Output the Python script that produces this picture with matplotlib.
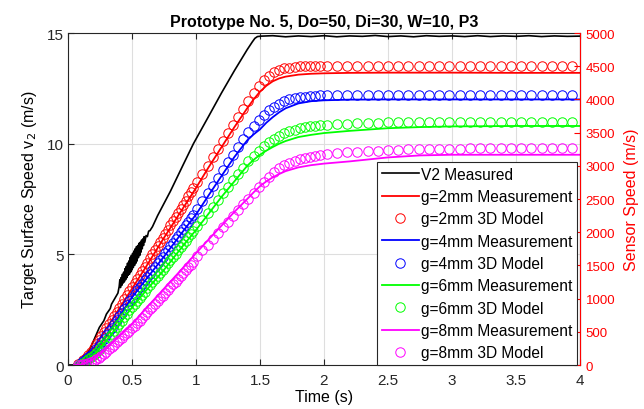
import numpy as np
import matplotlib
matplotlib.use("Agg")
import matplotlib.pyplot as plt

plt.rcParams['font.family'] = ['Liberation Sans', 'DejaVu Sans']

# ---- V2 measured target surface speed (m/s) ----
v2_time = [0.0, 0.05, 0.08, 0.10, 0.12, 0.14, 0.17, 0.20, 0.245, 0.28, 0.30, 0.33, 0.34, 0.375, 0.39,
           0.40, 0.405, 0.41, 0.415, 0.42, 0.425, 0.43, 0.435, 0.44, 0.445, 0.45, 0.455, 0.46, 0.465, 0.47,
           0.475, 0.48, 0.485, 0.49, 0.495, 0.50, 0.505, 0.51, 0.515, 0.52, 0.525, 0.53, 0.535, 0.54, 0.545,
           0.55, 0.555, 0.56, 0.565, 0.57, 0.575, 0.58, 0.585, 0.59, 0.595, 0.60, 0.61, 0.62, 0.63, 0.64,
           0.66, 0.68, 0.70, 0.80, 0.90, 0.98, 1.10, 1.20, 1.30, 1.40, 1.44, 1.46, 1.48, 1.51, 1.60,
           1.70, 1.80, 1.90, 2.00, 2.10, 2.20, 2.30, 2.40, 2.50, 2.60, 2.70, 2.80, 2.90, 3.00, 3.10,
           3.20, 3.30, 3.40, 3.50, 3.60, 3.70, 3.80, 3.90, 4.00]
v2_speed = [0.0, 0.0, 0.06, 0.15, 0.27, 0.42, 0.72, 1.10, 1.70, 2.00, 2.30, 2.55, 2.75, 3.10, 3.25,
            3.55, 3.85, 3.50, 3.95, 3.60, 4.10, 3.70, 4.20, 3.75, 4.35, 3.85, 4.45, 3.95, 4.60, 4.05,
            4.70, 4.10, 4.85, 4.20, 4.95, 4.30, 5.05, 4.40, 5.15, 4.50, 5.25, 4.60, 5.35, 4.70, 5.40,
            4.85, 5.50, 4.95, 5.55, 5.10, 5.65, 5.25, 5.70, 5.40, 5.80, 5.55, 5.85, 5.80, 6.05, 6.07,
            6.25, 6.50, 6.75, 7.85, 9.05, 10.00, 11.25, 12.30, 13.30, 14.25, 14.60, 14.76, 14.84, 14.86, 14.88,
            14.83, 14.87, 14.84, 14.88, 14.83, 14.87, 14.85, 14.89, 14.84, 14.87, 14.83, 14.88, 14.85, 14.87, 14.84,
            14.88, 14.84, 14.87, 14.85, 14.88, 14.84, 14.87, 14.85, 14.86]

# ---- sensor speed measurements, in target-speed units (m/s) ----
meas_time = [0.05, 0.10, 0.20, 0.30, 0.40, 0.50, 0.60, 0.75, 0.90, 1.00, 1.10, 1.20, 1.30, 1.40, 1.45,
             1.50, 1.55, 1.60, 1.65, 1.70, 1.80, 1.90, 2.00, 2.20, 2.50, 2.75, 3.00, 3.50, 4.00]
meas_g2 = [0.0, 0.12, 0.75, 1.65, 2.55, 3.45, 4.35, 5.75, 7.10, 8.00, 8.95, 9.85, 10.75, 11.60, 12.00,
           12.35, 12.62, 12.82, 12.95, 13.03, 13.12, 13.16, 13.18, 13.20, 13.21, 13.21, 13.21, 13.20, 13.20]
meas_g4 = [0.0, 0.08, 0.55, 1.35, 2.20, 3.05, 3.80, 4.90, 6.05, 6.80, 7.68, 8.55, 9.40, 10.15, 10.42,
           10.65, 10.95, 11.20, 11.42, 11.60, 11.82, 11.92, 11.96, 11.99, 12.00, 12.00, 12.00, 12.00, 12.00]
meas_g6 = [0.0, 0.06, 0.45, 1.10, 1.85, 2.60, 3.30, 4.30, 5.40, 6.10, 6.85, 7.60, 8.30, 9.00, 9.27,
           9.50, 9.69, 9.85, 10.00, 10.12, 10.30, 10.40, 10.48, 10.58, 10.70, 10.75, 10.78, 10.80, 10.80]
meas_g8 = [0.0, 0.02, 0.25, 0.75, 1.30, 1.85, 2.50, 3.45, 4.40, 5.05, 5.68, 6.30, 6.92, 7.50, 7.80,
           8.08, 8.30, 8.48, 8.63, 8.76, 8.93, 9.03, 9.10, 9.20, 9.38, 9.47, 9.50, 9.50, 9.50]

# ---- 3D model results ----
model_time = [0.08, 0.10, 0.12, 0.14, 0.16, 0.18, 0.20, 0.22, 0.24, 0.26, 0.28, 0.30, 0.32, 0.34, 0.36,
              0.38, 0.40, 0.42, 0.44, 0.46, 0.48, 0.50, 0.52, 0.54, 0.56, 0.58, 0.60, 0.62, 0.64, 0.66,
              0.68, 0.70, 0.72, 0.74, 0.76, 0.78, 0.80, 0.82, 0.84, 0.86, 0.88, 0.90, 0.92, 0.94, 0.96,
              0.98,
              1.01, 1.05, 1.09, 1.13, 1.17, 1.21, 1.25, 1.29, 1.33, 1.37, 1.41, 1.45, 1.49, 1.53, 1.57,
              1.61, 1.65, 1.69, 1.73, 1.77, 1.81, 1.85, 1.89, 1.93, 1.97,
              2.02, 2.10, 2.18, 2.26, 2.34, 2.42, 2.50, 2.58, 2.66, 2.74, 2.82, 2.90, 2.98, 3.06, 3.14,
              3.22, 3.30, 3.38, 3.46, 3.54, 3.62, 3.70, 3.78, 3.86, 3.94]
model_g2 = [0.03, 0.11, 0.21, 0.32, 0.45, 0.60, 0.78, 0.96, 1.14, 1.32, 1.51, 1.69, 1.87, 2.05, 2.23,
            2.41, 2.59, 2.77, 2.96, 3.15, 3.33, 3.52, 3.71, 3.89, 4.07, 4.26, 4.44, 4.63, 4.82, 5.00,
            5.19, 5.38, 5.56, 5.75, 5.94, 6.12, 6.31, 6.50, 6.68, 6.87, 7.06, 7.24, 7.43, 7.62, 7.80,
            7.99,
            8.27, 8.64, 9.01, 9.38, 9.75, 10.12, 10.49, 10.86, 11.22, 11.58, 11.93, 12.28, 12.60, 12.88, 13.08,
            13.23, 13.33, 13.40, 13.44, 13.47, 13.49, 13.50, 13.51, 13.52, 13.52,
            13.53, 13.53, 13.53, 13.53, 13.53, 13.53, 13.53, 13.53, 13.53, 13.53, 13.53, 13.53, 13.53, 13.53, 13.53,
            13.53, 13.53, 13.53, 13.53, 13.53, 13.53, 13.53, 13.53, 13.53, 13.53]
model_g4 = [0.02, 0.09, 0.16, 0.25, 0.35, 0.45, 0.57, 0.72, 0.88, 1.03, 1.19, 1.35, 1.52, 1.69, 1.86,
            2.03, 2.20, 2.37, 2.55, 2.72, 2.88, 3.05, 3.21, 3.37, 3.52, 3.67, 3.83, 3.98, 4.13, 4.29,
            4.44, 4.59, 4.75, 4.90, 5.05, 5.21, 5.36, 5.52, 5.68, 5.84, 6.00, 6.16, 6.32, 6.48, 6.64,
            6.80,
            7.06, 7.41, 7.76, 8.11, 8.46, 8.81, 9.16, 9.51, 9.86, 10.20, 10.52, 10.82, 11.08, 11.30, 11.50,
            11.66, 11.80, 11.92, 12.00, 12.06, 12.10, 12.13, 12.15, 12.17, 12.18,
            12.19, 12.20, 12.20, 12.20, 12.20, 12.20, 12.20, 12.20, 12.20, 12.20, 12.20, 12.20, 12.20, 12.20, 12.20,
            12.20, 12.20, 12.20, 12.20, 12.20, 12.20, 12.20, 12.20, 12.20, 12.20]
model_g6 = [0.01, 0.05, 0.11, 0.18, 0.26, 0.34, 0.44, 0.56, 0.69, 0.82, 0.96, 1.10, 1.25, 1.40, 1.55,
            1.70, 1.85, 2.00, 2.16, 2.31, 2.47, 2.62, 2.76, 2.90, 3.04, 3.18, 3.32, 3.46, 3.60, 3.74,
            3.88, 4.02, 4.16, 4.30, 4.45, 4.59, 4.74, 4.89, 5.03, 5.18, 5.33, 5.47, 5.62, 5.77, 5.91,
            6.06,
            6.28, 6.57, 6.87, 7.16, 7.46, 7.75, 8.05, 8.34, 8.63, 8.92, 9.20, 9.46, 9.68, 9.88, 10.06,
            10.22, 10.36, 10.47, 10.56, 10.63, 10.69, 10.74, 10.78, 10.81, 10.83,
            10.86, 10.88, 10.90, 10.92, 10.93, 10.95, 10.96, 10.97, 10.98, 10.98, 10.99, 11.00, 11.00, 11.00, 11.00,
            11.00, 11.00, 11.00, 11.00, 11.00, 11.00, 11.00, 11.00, 11.00, 11.00]
model_g8 = [0.00, 0.01, 0.03, 0.06, 0.10, 0.14, 0.19, 0.25, 0.33, 0.42, 0.51, 0.61, 0.71, 0.82, 0.92,
            1.03, 1.14, 1.24, 1.35, 1.45, 1.55, 1.65, 1.77, 1.89, 2.01, 2.13, 2.25, 2.38, 2.51, 2.63,
            2.76, 2.89, 3.01, 3.14, 3.27, 3.39, 3.52, 3.65, 3.77, 3.90, 4.03, 4.15, 4.28, 4.41, 4.53,
            4.66,
            4.92, 5.18, 5.44, 5.70, 5.96, 6.22, 6.48, 6.74, 7.00, 7.26, 7.52, 7.78, 8.03, 8.27, 8.50,
            8.70, 8.88, 9.02, 9.13, 9.22, 9.30, 9.36, 9.41, 9.46, 9.50,
            9.53, 9.57, 9.61, 9.64, 9.67, 9.69, 9.71, 9.73, 9.74, 9.75, 9.76, 9.77, 9.78, 9.78, 9.79,
            9.79, 9.79, 9.80, 9.80, 9.80, 9.80, 9.80, 9.80, 9.80, 9.80]

gaps = ['2mm', '4mm', '6mm', '8mm']
colors = ['#ff0000', '#0000ff', '#00ff00', '#ff00ff']
meas_series = [meas_g2, meas_g4, meas_g6, meas_g8]
model_series = [model_g2, model_g4, model_g6, model_g8]

xticks = [0, 0.5, 1, 1.5, 2, 2.5, 3, 3.5, 4]
xtick_labels = ['0', '0.5', '1', '1.5', '2', '2.5', '3', '3.5', '4']
left_ticks = [0, 5, 10, 15]
right_ticks = [0, 500, 1000, 1500, 2000, 2500, 3000, 3500, 4000, 4500, 5000]

axis_gray = '#262626'

fig = plt.figure(figsize=(6.44, 4.10), dpi=100)
ax = fig.add_axes([0.1056, 0.1073, 0.7950, 0.8097])

ax.plot(v2_time, v2_speed, color='k', lw=1.2, label='V2 Measured')
for g, c, meas, model in zip(gaps, colors, meas_series, model_series):
    ax.plot(meas_time, meas, color=c, lw=1.3, label=f'g={g} Measurement')
    ax.plot(model_time, model, linestyle='none', marker='o', markersize=6.8,
            markerfacecolor='none', markeredgecolor=c, markeredgewidth=0.7,
            label=f'g={g} 3D Model')

ax.set_xlim(0, 4)
ax.set_ylim(0, 15)
ax.set_xticks(xticks)
ax.set_xticklabels(xtick_labels)
ax.set_yticks(left_ticks)
ax.grid(True, color='#dedede', lw=0.8)
ax.set_axisbelow(True)
ax.tick_params(axis='both', direction='in', length=4, labelsize=11, colors=axis_gray,
               top=True, pad=3)
ax.tick_params(axis='x', pad=6)
for side in ['left', 'bottom', 'top']:
    ax.spines[side].set_color(axis_gray)
    ax.spines[side].set_linewidth(0.8)

ax.set_xlabel('Time (s)', fontsize=11.5, labelpad=1, color='k')
ax.set_ylabel('Target Surface Speed v$_2$ (m/s)', fontsize=11.5, labelpad=6, color='k')
ax.set_title('Prototype No. 5, Do=50, Di=30, W=10, P3', fontsize=11.5,
             fontweight='bold', pad=5)

# right-hand sensor speed scale
ax2 = ax.twinx()
ax2.set_ylim(0, 5000)
ax2.set_yticks(right_ticks)
ax2.tick_params(axis='y', direction='in', length=4, labelsize=9.5, colors='#ff0000', pad=4)
ax2.spines['right'].set_color('#ff0000')
ax2.spines['right'].set_linewidth(0.8)
for side in ['left', 'bottom', 'top']:
    ax2.spines[side].set_visible(False)
ax2.set_ylabel('Sensor Speed (m/s)', fontsize=11.5, color='#ff0000', labelpad=6)

handles, labels = ax.get_legend_handles_labels()
leg = ax2.legend(handles, labels, loc='lower right', bbox_to_anchor=(0.995, 0.0),
                 borderaxespad=0, fontsize=11.2, frameon=True, fancybox=False,
                 edgecolor=axis_gray, framealpha=1, numpoints=1, handlelength=2.4,
                 handletextpad=0.15, labelspacing=0.47, borderpad=0.3)
leg.get_frame().set_linewidth(0.8)

fig.savefig('out.png', dpi=100)
